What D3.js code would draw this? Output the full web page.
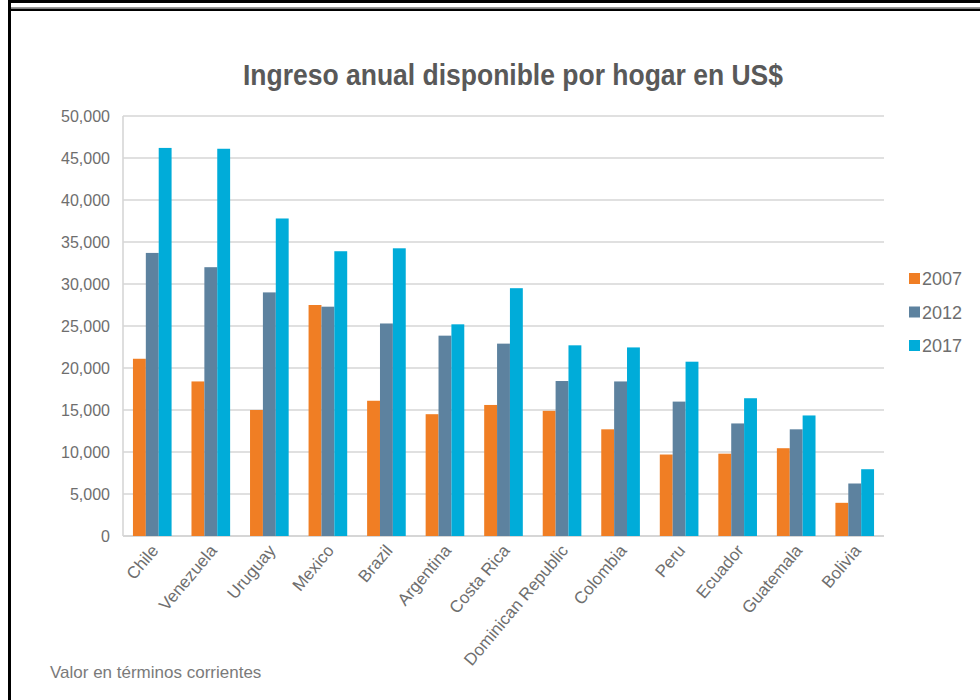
<!DOCTYPE html>
<html>
<head>
<meta charset="utf-8">
<script src="https://cdn.jsdelivr.net/npm/d3@7"></script>
<style>
  body { margin: 0; background: #fff; }
  svg { display: block; font-family: "Liberation Sans", Arial, sans-serif; }
</style>
</head>
<body>
<svg id="chart" width="980" height="700"></svg>
<script>
// data
var countries = ["Chile", "Venezuela", "Uruguay", "Mexico", "Brazil", "Argentina", "Costa Rica",
    "Dominican Republic", "Colombia", "Peru", "Ecuador", "Guatemala", "Bolivia"];
var years = ["2007", "2012", "2017"];
var values2007 = [21100, 18400, 15000, 27500, 16100, 14500, 15600, 14900, 12700, 9700, 9800, 10450, 3950];
var values2012 = [33700, 32000, 29000, 27300, 25300, 23850, 22900, 18450, 18400, 16000, 13400, 12700, 6250];
var values2017 = [46200, 46100, 37800, 33900, 34250, 25200, 29500, 22700, 22450, 20750, 16400, 14350, 7950];
var yTicks = [0, 5000, 10000, 15000, 20000, 25000, 30000, 35000, 40000, 45000, 50000];
var colors = ["#f07e24", "#5d829f", "#00acd9"];

var series = [values2007, values2012, values2017];

var svg = d3.select("#chart");

// frame around the chart
svg.append("rect").attr("x", 8).attr("y", 0).attr("width", 972).attr("height", 3).attr("fill", "#000");
svg.append("rect").attr("x", 8).attr("y", 7).attr("width", 972).attr("height", 1).attr("fill", "#9a9a9a");
svg.append("rect").attr("x", 8).attr("y", 8.5).attr("width", 972).attr("height", 2.5).attr("fill", "#000");
svg.append("rect").attr("x", 8).attr("y", 0).attr("width", 3).attr("height", 700).attr("fill", "#000");

var plot = { left: 123, right: 884, top: 116, bottom: 536 };

var x = d3.scaleBand()
    .domain(countries)
    .range([plot.left, plot.right])
    .paddingInner(0.34)
    .paddingOuter(0.17);

var xs = d3.scaleBand()
    .domain(years)
    .range([0, x.bandwidth()]);

var y = d3.scaleLinear()
    .domain([0, 50000])
    .range([plot.bottom, plot.top]);

// gridlines
svg.append("g")
    .selectAll("line")
    .data(yTicks)
    .join("line")
    .attr("x1", plot.left)
    .attr("x2", plot.right)
    .attr("y1", function (d) { return y(d); })
    .attr("y2", function (d) { return y(d); })
    .attr("stroke", function (d) { return d === 0 ? "#c8c8c8" : "#d6d6d6"; })
    .attr("stroke-width", 1.6);

svg.append("line")
    .attr("x1", plot.left).attr("x2", plot.left)
    .attr("y1", plot.top).attr("y2", plot.bottom)
    .attr("stroke", "#d6d6d6")
    .attr("stroke-width", 1.6);

// y axis labels
var yAxis = d3.axisLeft(y)
    .tickValues(yTicks)
    .tickSize(0)
    .tickPadding(13)
    .tickFormat(d3.format(","));
var gy = svg.append("g")
    .attr("transform", "translate(" + plot.left + ",0)")
    .call(yAxis);
gy.select(".domain").remove();
gy.selectAll("text")
    .attr("font-family", "Liberation Sans, Arial, sans-serif")
    .attr("font-size", 16)
    .attr("fill", "#6e6e6e");

// bars
var groups = svg.append("g")
    .selectAll("g")
    .data(countries)
    .join("g")
    .attr("transform", function (d) { return "translate(" + x(d) + ",0)"; });

groups.selectAll("rect")
    .data(function (d, i) {
        return years.map(function (yr, j) { return { year: yr, value: series[j][i], k: j }; });
    })
    .join("rect")
    .attr("x", function (d) { return xs(d.year); })
    .attr("width", xs.bandwidth())
    .attr("y", function (d) { return y(d.value); })
    .attr("height", function (d) { return y(0) - y(d.value); })
    .attr("fill", function (d) { return colors[d.k]; });

// x axis labels, slanted
var xAxis = d3.axisBottom(x).tickSize(0).tickPadding(0);
var gx = svg.append("g")
    .attr("transform", "translate(0," + plot.bottom + ")")
    .call(xAxis);
gx.select(".domain").remove();
gx.selectAll("text")
    .attr("font-family", "Liberation Sans, Arial, sans-serif")
    .attr("font-size", 17)
    .attr("fill", "#6e6e6e")
    .attr("text-anchor", "end")
    .attr("dy", 0)
    .attr("transform", "translate(7,15) rotate(-50)");

// title
svg.append("text")
    .attr("x", 513)
    .attr("y", 85)
    .attr("text-anchor", "middle")
    .attr("font-size", 30)
    .attr("font-weight", "bold")
    .attr("fill", "#595959")
    .attr("textLength", 540)
    .attr("lengthAdjust", "spacingAndGlyphs")
    .text("Ingreso anual disponible por hogar en US$");

// legend
var legend = svg.append("g")
    .selectAll("g")
    .data(years)
    .join("g")
    .attr("transform", function (d, i) { return "translate(909," + (279 + i * 33.5) + ")"; });
legend.append("rect")
    .attr("x", 0).attr("y", -6)
    .attr("width", 11).attr("height", 11)
    .attr("fill", function (d, i) { return colors[i]; });
legend.append("text")
    .attr("x", 13)
    .attr("y", 0)
    .attr("dy", "0.35em")
    .attr("font-size", 18)
    .attr("fill", "#6e6e6e")
    .text(function (d) { return d; });

// footnote
svg.append("text")
    .attr("x", 50)
    .attr("y", 678)
    .attr("font-size", 17)
    .attr("fill", "#7a7a7a")
    .text("Valor en términos corrientes");
</script>
</body>
</html>
